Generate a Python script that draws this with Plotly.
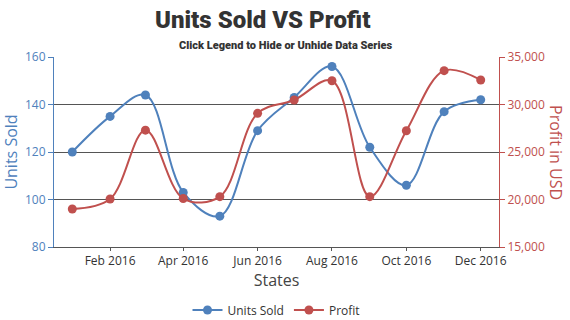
import plotly.graph_objects as go

months = ["2016-01-01", "2016-02-01", "2016-03-01", "2016-04-01", "2016-05-01", "2016-06-01",
          "2016-07-01", "2016-08-01", "2016-09-01", "2016-10-01", "2016-11-01", "2016-12-01"]
units_sold = [120, 135, 144, 103, 93, 129, 143, 156, 122, 106, 137, 142]
profit = [19000, 20050, 27300, 20100, 20300, 29070, 30470, 32500, 20300, 27240, 33560, 32580]

BLUE = "#4F81BC"
RED = "#C0504E"
SANS = "Open Sans, Noto Sans, sans-serif"
TICK_FONT = dict(family=SANS, size=12)
TITLE_FAM = "Roboto, sans-serif"

fig = go.Figure()
fig.add_trace(go.Scatter(x=months, y=units_sold, name="Units Sold", mode="lines+markers",
                         line=dict(color=BLUE, width=2, shape="spline", smoothing=1.0),
                         marker=dict(color=BLUE, size=9), yaxis="y"))
fig.add_trace(go.Scatter(x=months, y=profit, name="Profit", mode="lines+markers",
                         line=dict(color=RED, width=2, shape="spline", smoothing=1.0),
                         marker=dict(color=RED, size=9), yaxis="y2"))

fig.update_layout(
    width=570, height=320,
    margin=dict(l=54, r=71, t=57, b=73, autoexpand=False),
    paper_bgcolor="white", plot_bgcolor="white",
    showlegend=True,
    legend=dict(orientation="h", x=0.5, xanchor="center", yref="container", y=10 / 320,
                yanchor="middle",
                font=dict(family=SANS, size=12, color="#333"), itemwidth=30),
    xaxis=dict(type="date", range=["2015-12-17", "2016-12-16"], tick0="2016-02-01", dtick="M2",
               tickformat="%b %Y", showgrid=False, showline=True, linecolor="#555", linewidth=1,
               ticks="outside", ticklen=3, tickcolor="#555", automargin=False,
               tickfont=dict(color="#333", **TICK_FONT),
               title=dict(text="States", font=dict(family=SANS, size=16, color="#444"),
                          standoff=4)),
    yaxis=dict(range=[80, 160], dtick=20, showgrid=True, gridcolor="#555", gridwidth=1,
               showline=True, linecolor=BLUE, linewidth=1, ticks="outside", ticklen=5,
               tickcolor=BLUE, tickfont=dict(color=BLUE, **TICK_FONT), zeroline=False,
               automargin=False,
               title=dict(text="Units Sold", font=dict(family=SANS, size=16, color=BLUE),
                          standoff=6)),
    yaxis2=dict(range=[15000, 35000], dtick=5000, overlaying="y", side="right", showgrid=False,
                showline=True, linecolor=RED, linewidth=1, ticks="outside", ticklen=5,
                tickcolor=RED, tickformat=",d", tickfont=dict(color=RED, **TICK_FONT),
                zeroline=False, automargin=False),
    annotations=[
        dict(text="Profit in USD", textangle=90, xref="paper", yref="paper",
             x=(556 - 54) / 445, y=0.5, xanchor="center", yanchor="middle", showarrow=False,
             font=dict(family=SANS, size=16, color=RED)),
        dict(text="Units Sold VS Profit", xref="paper", yref="paper",
             x=(262 - 54) / 445, y=1 + (57 - 20) / 190, xanchor="center", yanchor="middle",
             showarrow=False,
             font=dict(family=TITLE_FAM, size=24, color="#333", weight=900)),
        dict(text="Click Legend to Hide or Unhide Data Series", xref="paper", yref="paper",
             x=(286 - 54) / 445, y=1 + (57 - 45) / 190, xanchor="center", yanchor="middle",
             showarrow=False,
             font=dict(family=TITLE_FAM, size=11, color="#333", weight=900)),
    ],
)

fig.write_html("out.html")
